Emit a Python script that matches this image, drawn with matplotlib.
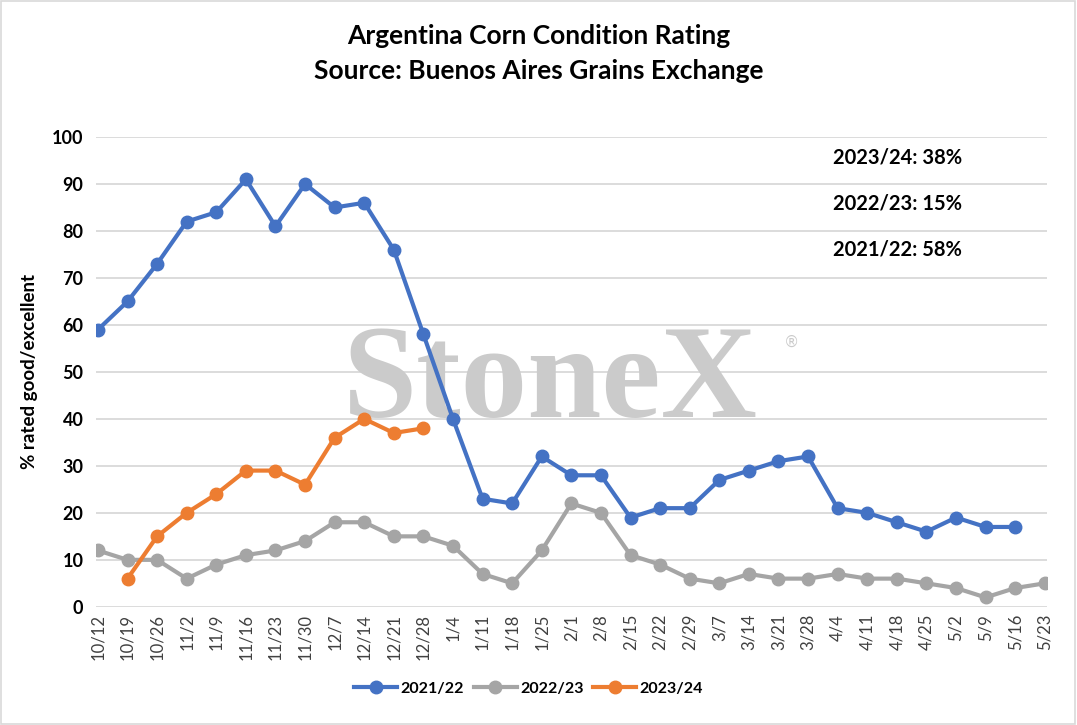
import matplotlib
matplotlib.use("Agg")
import matplotlib.pyplot as plt
from matplotlib.patches import Rectangle
import numpy as np

plt.rcParams["font.family"] = ["Lato", "DejaVu Sans"]

weeks = ["10/12", "10/19", "10/26", "11/2", "11/9", "11/16", "11/23", "11/30",
         "12/7", "12/14", "12/21", "12/28", "1/4", "1/11", "1/18", "1/25",
         "2/1", "2/8", "2/15", "2/22", "2/29", "3/7", "3/14", "3/21", "3/28",
         "4/4", "4/11", "4/18", "4/25", "5/2", "5/9", "5/16", "5/23"]

s2122 = [59, 65, 73, 82, 84, 91, 81, 90, 85, 86, 76, 58, 40, 23, 22, 32,
         28, 28, 19, 21, 21, 27, 29, 31, 32, 21, 20, 18, 16, 19, 17, 17, None]
s2223 = [12, 10, 10, 6, 9, 11, 12, 14, 18, 18, 15, 15, 13, 7, 5, 12,
         22, 20, 11, 9, 6, 5, 7, 6, 6, 7, 6, 6, 5, 4, 2, 4, 5]
s2324 = [None, 6, 15, 20, 24, 29, 29, 26, 36, 40, 37, 38]

notes = ["2023/24: 38%", "2022/23: 15%", "2021/22: 58%"]

series = [("2021/22", s2122, "#4472C4"),
          ("2022/23", s2223, "#A5A5A5"),
          ("2023/24", s2324, "#ED7D31")]

fig = plt.figure(figsize=(10.77, 7.25), dpi=100)
ax = fig.add_axes([0.089, 0.163, 0.883, 0.648])

x = np.arange(len(weeks))
for name, vals, col in series:
    y = np.array([np.nan if v is None else v for v in vals], dtype=float)
    ax.plot(x[:len(y)], y, color=col, lw=3, marker="o", ms=9,
            label=name, zorder=3)

ax.set_xlim(-0.07, len(weeks) - 1 + 0.07)
ax.set_ylim(0, 100)
ax.set_yticks(range(0, 101, 10))
ax.set_xticks(x)
ax.set_xticklabels(weeks, rotation=90, fontsize=12, color="#404040")
for lab in ax.get_yticklabels():
    lab.set_fontweight("bold")
    lab.set_fontsize(13)
ax.tick_params(axis="both", length=0, pad=9)
ax.tick_params(axis="x", pad=5)
ax.grid(axis="y", color="#D9D9D9", lw=1.3)
ax.set_axisbelow(True)
for sp in ax.spines.values():
    sp.set_visible(False)
ax.set_ylabel("% rated good/excellent", fontsize=13.5, fontweight="bold",
              labelpad=10)

fig.text(0.5, 0.950, "Argentina Corn Condition Rating", ha="center",
         va="center", fontsize=19, fontweight="bold")
fig.text(0.5, 0.902, "Source: Buenos Aires Grains Exchange", ha="center",
         va="center", fontsize=19, fontweight="bold")

for i, t in enumerate(notes):
    fig.text(0.833, 0.783 - i * 0.0635, t, ha="center", va="center",
             fontsize=14.5, fontweight="bold")

# watermark, behind the lines
ax.text(0.511, 0.470, "StoneX", ha="center", va="center",
        transform=fig.transFigure, family="Liberation Serif",
        fontweight="bold", fontsize=96, color="#CBCBCB", zorder=1)
ax.text(0.735, 0.528, "\u00ae", ha="center", va="center",
        transform=fig.transFigure, family="DejaVu Sans", fontsize=11,
        color="#CBCBCB", zorder=1)

ax.legend(loc="upper center", bbox_to_anchor=(0.455, -0.128), ncol=3,
          frameon=False, handlelength=2.7, handletextpad=0.2,
          columnspacing=0.6, prop={"weight": "bold", "size": 11.5})

fig.patches.append(Rectangle((0.001, 0.002), 0.997, 0.996,
                             transform=fig.transFigure, fill=False,
                             edgecolor="#D9D9D9", lw=1.2))

fig.savefig("out.png", dpi=100)
